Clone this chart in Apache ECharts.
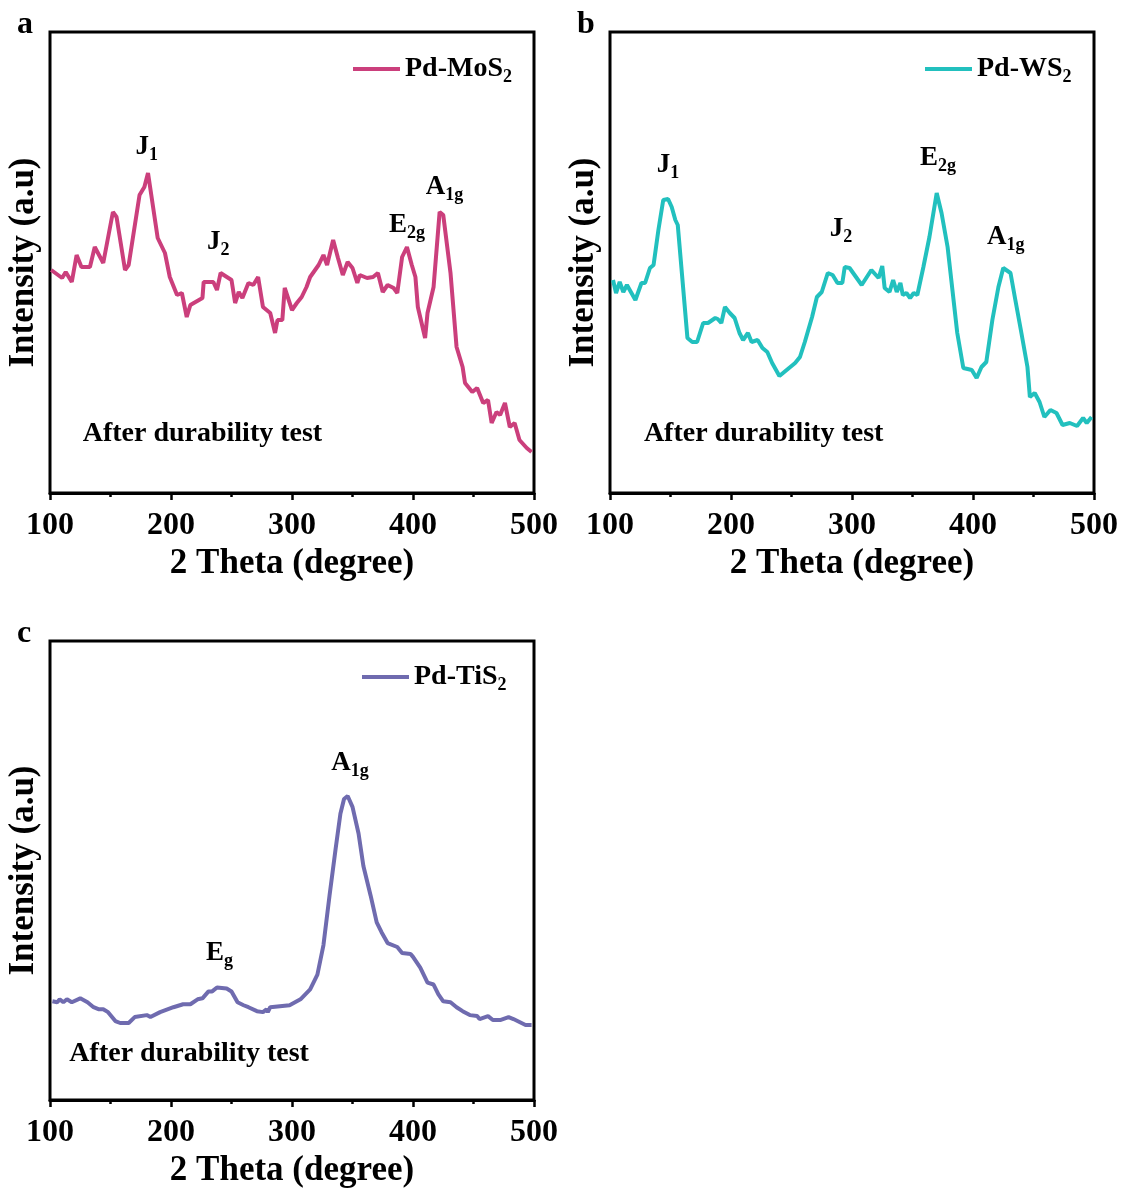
<!DOCTYPE html>
<html>
<head>
<meta charset="utf-8">
<script src="https://cdn.jsdelivr.net/npm/echarts@6/dist/echarts.min.js"></script>
<style>
  html, body { margin: 0; padding: 0; background: #fff; }
  #chart { width: 1127px; height: 1189px; }
</style>
</head>
<body>
<div id="chart"></div>
<script>
// Raman spectra of Pd-loaded TMDs after the durability test
const thetaMoS2 = [101,110,113,118,122,126,133,137,144,152,155,162,165,174,178,181,189,195,199,205,209,213,216,226,227,235,238,241,250,253,256,259,264,268,272,276,282,286,288,292,294,300,304,308,312,315,322,326,329,334,338,342,346,350,354,356,362,367,371,375,379,384,387,391,395,399,402,404,410,412,417,422,425,431,436,441,443,449,453,458,462,465,469,472,476,480,484,488,494,498];
const intensityMoS2 = [223,215,221,211,238,226,226,246,230,281,276,223,228,298,306,320,255,240,216,198,200,176,188,195,211,211,203,220,213,190,201,195,210,208,216,186,180,160,173,173,205,183,190,196,206,216,228,238,228,253,235,218,231,225,210,218,215,216,220,201,208,205,200,236,246,228,216,186,155,180,206,281,278,220,146,126,110,101,105,90,93,70,81,78,90,66,70,53,45,41];

const thetaWS2 = [102.5,105,108,111,114,121,126,129,133,136,140,144,148,151,154,156,164,168,172,177,181,187,189,192,195,199,203,207,210,214,217,222,226,230,234,240,247,253,257,261,267,271,275,280,284,288,292,294,298,308,316,322,325,327,331,334,337,340,342,345,348,351,354,359,364,370,374,379,387,392,399,403,407,411,416,421,425,431,435,440,445,447,451,455,459,464,469,474,480,486,491,494,498];
const intensityWS2 = [213,200,211,201,208,193,210,210,225,228,263,293,294,286,273,268,155,151,151,170,170,175,174,170,186,180,175,160,153,160,151,153,145,141,130,117,124,130,136,151,176,196,201,220,218,210,210,226,225,208,223,215,227,205,201,213,201,210,198,200,195,200,198,226,256,300,280,246,160,125,123,115,126,131,173,206,225,220,193,160,126,96,100,91,76,83,80,68,70,67,75,70,76];

const thetaTiS2 = [102,106,108,111,114,118,125,131,136,140,144,148,154,158,165,170,180,183,191,202,210,216,222,226,231,234,238,246,250,255,260,264,271,276,279,280,282,290,298,307,315,321,326,331,336,340,343,346,350,355,359,365,370,374,379,387,391,398,400,406,412,417,421,425,431,436,441,447,453,455,462,466,472,479,483,488,493,498];
const intensityTiS2 = [100,99,102,99,102,99,103,99,94,92,92,89,80,78,78,84,86,84,89,94,97,97,102,103,110,110,114,113,110,99,96,94,90,89,92,89,94,95,96,102,112,127,157,207,254,290,305,308,297,270,237,207,180,170,159,155,149,148,145,134,119,117,107,100,99,94,90,86,85,82,85,81,81,84,82,79,76,76];

const xTicks = [100, 200, 300, 400, 500];
const sampleNames = ['Pd-MoS2', 'Pd-WS2', 'Pd-TiS2'];
const panelLetters = ['a', 'b', 'c'];
const noteText = 'After durability test';

const FONT = '"Liberation Serif", "Times New Roman", serif';
const colors = ['#CB3F7C', '#22C0BE', '#6F6BAF'];

const zip = (xs, ys) => xs.map((x, i) => [x, ys[i]]);

const richText = {
  m: { fontSize: 27, fontWeight: 'bold', fontFamily: FONT, color: '#000' },
  s: { fontSize: 18, fontWeight: 'bold', fontFamily: FONT, color: '#000', padding: [16, 0, 0, 0] },
  t: { fontSize: 28, fontWeight: 'bold', fontFamily: FONT, color: '#000' }
};

// peak label (symbol + subscript) anchored in data coordinates
function tag(main, sub, x, y) {
  return {
    coord: [x, y],
    label: {
      show: true, position: 'inside', align: 'center',
      formatter: '{m|' + main + '}{s|' + sub + '}',
      rich: richText
    }
  };
}
// plain note, left-aligned at its anchor
function note(text, x, y) {
  return {
    coord: [x, y],
    label: {
      show: true, position: 'inside', align: 'left',
      formatter: '{t|' + text + '}',
      rich: richText
    }
  };
}

const grids = [
  { left: 50, top: 32, width: 484, height: 461 },
  { left: 610, top: 32, width: 484, height: 461 },
  { left: 50, top: 641, width: 484, height: 465 }
];
const yMax = [461, 461, 465];

const chart = echarts.init(document.getElementById('chart'));

const option = {
  backgroundColor: '#fff',
  animation: false,
  title: panelLetters.map((t, i) => ({
    text: t,
    left: grids[i].left - 38,
    top: grids[i].top - 28,
    textStyle: { fontFamily: FONT, fontWeight: 'bold', fontSize: 32, color: '#000' }
  })),
  grid: grids.map(g => Object.assign({ show: true, borderColor: '#000', borderWidth: 3, backgroundColor: 'transparent' }, g)),
  xAxis: grids.map((g, i) => ({
    type: 'value',
    gridIndex: i,
    min: xTicks[0],
    max: xTicks[xTicks.length - 1],
    interval: 100,
    name: '2 Theta (degree)',
    nameLocation: 'middle',
    nameGap: 53,
    nameTextStyle: { fontFamily: FONT, fontWeight: 'bold', fontSize: 35, color: '#000' },
    axisLine: { show: true, onZero: false, lineStyle: { color: '#000', width: 3 } },
    axisTick: { show: true, inside: false, length: 7, lineStyle: { color: '#000', width: 2.5 } },
    minorTick: { show: true, splitNumber: 2, length: 4, lineStyle: { color: '#000', width: 2.5 } },
    axisLabel: { fontFamily: FONT, fontWeight: 'bold', fontSize: 32, color: '#000', margin: 17 },
    splitLine: { show: false }
  })),
  yAxis: grids.map((g, i) => ({
    type: 'value',
    gridIndex: i,
    min: 0,
    max: yMax[i],
    name: 'Intensity (a.u)',
    nameLocation: 'middle',
    nameGap: 9,
    nameTextStyle: { fontFamily: FONT, fontWeight: 'bold', fontSize: 35, color: '#000' },
    axisLine: { show: false },
    axisTick: { show: false },
    axisLabel: { show: false },
    splitLine: { show: false }
  })),
  legend: sampleNames.map((n, i) => ({
    data: [n],
    left: [353, 925, 362][i],
    top: [55, 55, 663][i],
    icon: 'rect',
    itemWidth: 47,
    itemHeight: 4,
    itemGap: 0,
    padding: 0,
    formatter: name => '{n|' + name.slice(0, -1) + '}{s|' + name.slice(-1) + '}',
    textStyle: {
      padding: [0, 0, 0, 0],
      rich: {
        n: { fontSize: 28, fontWeight: 'bold', fontFamily: FONT, color: '#000' },
        s: { fontSize: 18, fontWeight: 'bold', fontFamily: FONT, color: '#000', padding: [16, 0, 0, 0] }
      }
    }
  })),
  series: [
    {
      name: sampleNames[0], type: 'line', xAxisIndex: 0, yAxisIndex: 0,
      data: zip(thetaMoS2, intensityMoS2),
      showSymbol: false, lineStyle: { color: colors[0], width: 4 }, itemStyle: { color: colors[0] },
      markPoint: {
        symbol: 'circle', symbolSize: 1, itemStyle: { color: 'rgba(0,0,0,0)' },
        data: [
          tag('J', '1', 180, 346),
          tag('J', '2', 239, 251),
          tag('E', '2g', 395, 268),
          tag('A', '1g', 426, 306),
          note(noteText, 127, 59)
        ]
      }
    },
    {
      name: sampleNames[1], type: 'line', xAxisIndex: 1, yAxisIndex: 1,
      data: zip(thetaWS2, intensityWS2),
      showSymbol: false, lineStyle: { color: colors[1], width: 4 }, itemStyle: { color: colors[1] },
      markPoint: {
        symbol: 'circle', symbolSize: 1, itemStyle: { color: 'rgba(0,0,0,0)' },
        data: [
          tag('J', '1', 148, 328),
          tag('J', '2', 291, 264),
          tag('E', '2g', 371, 335),
          tag('A', '1g', 427, 256),
          note(noteText, 128, 59)
        ]
      }
    },
    {
      name: sampleNames[2], type: 'line', xAxisIndex: 2, yAxisIndex: 2,
      data: zip(thetaTiS2, intensityTiS2),
      showSymbol: false, lineStyle: { color: colors[2], width: 4 }, itemStyle: { color: colors[2] },
      markPoint: {
        symbol: 'circle', symbolSize: 1, itemStyle: { color: 'rgba(0,0,0,0)' },
        data: [
          tag('E', 'g', 240, 149),
          tag('A', '1g', 348, 341),
          note(noteText, 116, 47)
        ]
      }
    }
  ]
};

chart.setOption(option);
</script>
</body>
</html>
